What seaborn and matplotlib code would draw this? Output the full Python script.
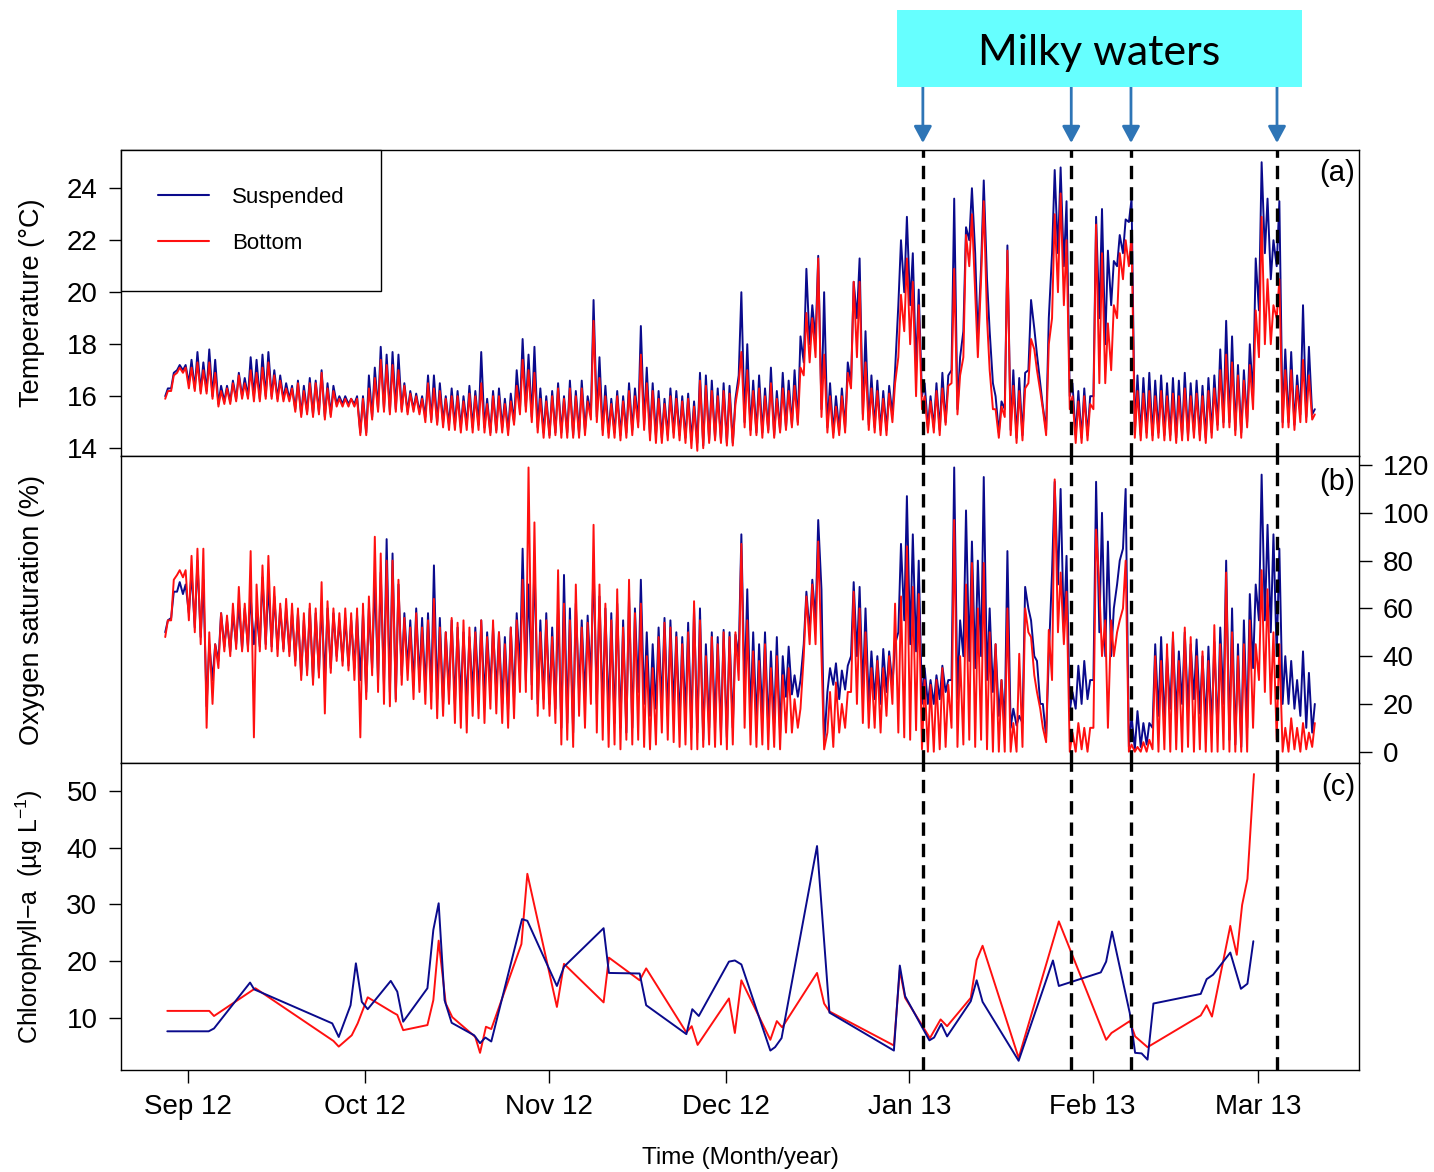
import numpy as np
import pandas as pd
import matplotlib
matplotlib.use("Agg")
import matplotlib.pyplot as plt
from matplotlib.lines import Line2D
from matplotlib.patches import Rectangle
import seaborn as sns

sns.set_theme(style="ticks", rc={"text.color": "black", "axes.labelcolor": "black",
                                 "xtick.color": "black", "ytick.color": "black",
                                 "axes.edgecolor": "black"})
plt.rcParams["font.family"] = ["Liberation Sans", "DejaVu Sans"]
plt.rcParams["mathtext.fontset"] = "custom"
plt.rcParams["mathtext.rm"] = "Liberation Sans"
plt.rcParams["mathtext.it"] = "Liberation Sans:italic"

START = pd.Timestamp("2012-08-28")  # day 0

# ---------------- (a) Temperature, two readings per day (morning / afternoon) -------------
temp_susp_am = [
    16.0, 16.3, 17.0, 17.0, 16.5, 16.3, 16.2, 16.2, 16.0, 15.7,
    15.8, 15.8, 15.9, 16.0, 16.0, 16.0, 15.9, 16.0, 16.0, 15.9,
    15.9, 15.9, 15.5, 15.3, 15.4, 15.3, 15.4, 15.2, 15.3, 15.7,
    15.7, 15.7, 15.7, 14.6, 14.6, 15.2, 15.5, 15.5, 15.4, 15.5,
    15.5, 15.4, 15.5, 15.4, 15.2, 15.1, 15.0, 15.0, 14.9, 14.9,
    14.8, 14.9, 14.8, 14.9, 14.8, 14.6, 14.7, 14.8, 14.7, 15.0,
    15.5, 15.6, 15.2, 14.8, 14.6, 14.5, 14.6, 14.6, 14.6, 14.5,
    14.6, 14.7, 15.3, 15.2, 14.7, 14.6, 14.6, 14.5, 14.6, 14.7,
    15.0, 14.9, 14.5, 14.5, 14.4, 14.5, 14.6, 14.5, 14.4, 14.3,
    14.2, 14.1, 14.3, 14.4, 14.3, 14.2, 14.2, 16.8, 15.0, 14.7,
    14.6, 14.6, 14.7, 14.5, 14.7, 14.8, 14.9, 15.0, 17.3, 18.0,
    18.2, 15.5, 14.8, 14.6, 14.7, 14.8, 16.5, 19.0, 15.3, 14.9,
    14.8, 14.7, 14.7, 15.3, 19.5, 20.0, 19.5, 17.0, 16.0, 14.8,
    14.8, 14.7, 15.0, 17.0, 15.5, 18.5, 22.0, 21.5, 21.0, 20.5,
    16.5, 14.6, 15.5, 14.7, 14.4, 14.5, 17.0, 18.6, 16.5, 14.7,
    21.5, 21.5, 21.0, 16.0, 14.5, 14.4, 14.5, 16.0, 19.0, 18.0,
    19.5, 21.0, 21.5, 22.7, 14.6, 14.5, 14.6, 14.5, 14.6, 14.5,
    14.5, 14.4, 14.5, 14.5, 14.6, 14.5, 14.4, 14.6, 14.9, 15.0,
    15.0, 14.7, 14.6, 15.0, 16.0, 19.3, 21.5, 20.5, 21.0, 15.0,
    15.0, 14.9, 15.3, 15.2, 15.3,
]
temp_susp_pm = [
    16.3, 16.9, 17.2, 17.2, 17.4, 17.7, 17.3, 17.8, 17.4, 16.4,
    16.4, 16.6, 16.9, 16.7, 17.5, 17.4, 17.6, 17.7, 17.0, 16.8,
    16.5, 16.4, 16.6, 16.4, 16.7, 16.6, 17.0, 16.5, 16.4, 16.0,
    16.0, 15.9, 16.0, 16.0, 16.8, 17.1, 17.9, 17.6, 17.7, 17.6,
    16.5, 16.2, 16.1, 16.0, 16.8, 16.8, 16.5, 16.0, 16.3, 16.2,
    16.0, 16.4, 16.2, 17.7, 15.9, 16.2, 16.3, 15.9, 16.1, 17.0,
    18.2, 17.6, 17.9, 16.3, 16.0, 16.2, 16.5, 16.0, 16.6, 16.2,
    16.6, 16.0, 19.7, 17.5, 16.4, 15.9, 16.2, 16.0, 16.5, 16.3,
    18.7, 17.1, 16.5, 16.2, 15.9, 16.3, 16.2, 16.0, 16.1, 15.8,
    16.9, 16.8, 16.6, 16.3, 16.5, 16.4, 15.9, 20.0, 18.0, 16.6,
    16.8, 16.3, 17.1, 16.2, 16.9, 16.6, 17.0, 18.3, 20.9, 19.5,
    21.4, 20.0, 16.5, 16.0, 16.3, 17.3, 20.4, 21.3, 18.5, 16.8,
    16.6, 16.2, 16.4, 17.0, 22.0, 22.9, 21.5, 20.1, 16.5, 16.0,
    16.5, 16.9, 16.8, 23.6, 17.5, 22.5, 24.0, 18.2, 24.3, 18.5,
    16.0, 15.8, 21.8, 17.0, 16.7, 16.9, 19.7, 17.6, 15.6, 19.0,
    24.7, 24.8, 23.5, 16.5, 16.2, 16.3, 16.0, 22.9, 23.2, 21.6,
    21.2, 22.2, 22.8, 23.6, 16.8, 16.7, 16.9, 16.6, 16.8, 16.5,
    16.7, 16.6, 16.9, 16.5, 16.6, 16.4, 16.7, 16.8, 17.8, 18.9,
    18.3, 17.2, 17.0, 18.0, 21.3, 25.0, 23.6, 22.0, 23.5, 17.8,
    17.7, 16.8, 19.5, 17.9, 15.5,
]
temp_bot_am = [
    15.9, 16.2, 16.9, 16.9, 16.3, 16.2, 16.1, 16.1, 15.9, 15.6,
    15.7, 15.7, 15.8, 15.9, 15.9, 15.8, 15.8, 15.9, 15.9, 15.8,
    15.8, 15.8, 15.4, 15.2, 15.3, 15.2, 15.3, 15.1, 15.2, 15.6,
    15.6, 15.6, 15.6, 14.5, 14.5, 15.1, 15.4, 15.4, 15.3, 15.4,
    15.4, 15.3, 15.4, 15.3, 15.0, 15.0, 14.9, 14.8, 14.7, 14.7,
    14.6, 14.7, 14.6, 14.7, 14.6, 14.5, 14.6, 14.6, 14.5, 14.9,
    15.3, 15.4, 15.0, 14.6, 14.4, 14.4, 14.5, 14.4, 14.4, 14.4,
    14.4, 14.5, 15.1, 15.0, 14.5, 14.4, 14.4, 14.3, 14.4, 14.5,
    14.8, 14.7, 14.3, 14.2, 14.2, 14.3, 14.4, 14.3, 14.2, 14.0,
    13.9, 14.0, 14.2, 14.3, 14.2, 14.1, 14.1, 16.5, 14.8, 14.5,
    14.5, 14.4, 14.6, 14.4, 14.6, 14.7, 14.8, 14.9, 16.8, 17.3,
    17.5, 15.2, 14.6, 14.4, 14.5, 14.6, 16.3, 17.5, 15.1, 14.7,
    14.6, 14.5, 14.5, 15.0, 17.5, 18.5, 18.0, 16.0, 15.5, 14.6,
    14.6, 14.5, 14.9, 16.5, 15.3, 17.5, 21.0, 20.0, 20.5, 19.0,
    15.5, 14.4, 15.2, 14.5, 14.2, 14.3, 16.5, 17.8, 16.2, 14.5,
    19.0, 20.0, 19.5, 15.5, 14.2, 14.2, 14.3, 15.5, 16.5, 16.5,
    17.0, 19.0, 20.5, 21.0, 14.4, 14.3, 14.4, 14.3, 14.4, 14.3,
    14.3, 14.2, 14.3, 14.3, 14.4, 14.3, 14.2, 14.4, 14.7, 14.8,
    14.8, 14.5, 14.4, 14.8, 15.5, 17.5, 18.0, 18.0, 19.0, 14.8,
    14.8, 14.7, 15.0, 15.0, 15.1,
]
temp_bot_pm = [
    16.2, 16.8, 17.1, 17.1, 17.1, 17.3, 17.0, 17.3, 16.9, 16.2,
    16.3, 16.5, 16.8, 16.5, 17.0, 16.9, 17.1, 17.3, 16.8, 16.6,
    16.3, 16.3, 16.5, 16.2, 16.5, 16.5, 16.9, 16.3, 16.2, 15.9,
    15.9, 15.9, 15.9, 15.9, 16.3, 16.7, 17.4, 17.2, 17.2, 17.0,
    16.4, 16.1, 16.0, 15.9, 16.5, 16.3, 16.2, 15.9, 16.0, 16.0,
    15.8, 16.1, 16.0, 16.5, 15.7, 16.0, 16.0, 15.7, 15.8, 16.4,
    17.4, 17.0, 16.9, 15.9, 15.8, 16.0, 16.3, 15.9, 16.3, 16.0,
    16.3, 15.8, 18.9, 16.7, 16.0, 15.7, 16.0, 15.8, 16.2, 16.0,
    17.6, 16.5, 16.2, 15.9, 15.7, 16.0, 15.9, 15.8, 15.9, 15.6,
    16.6, 16.4, 16.2, 16.0, 16.2, 16.1, 15.7, 17.7, 17.0, 16.2,
    16.3, 16.0, 16.5, 15.9, 16.3, 16.2, 16.4, 17.1, 19.2, 19.0,
    21.3, 17.6, 16.0, 15.6, 16.0, 16.9, 20.4, 20.4, 17.3, 16.3,
    16.2, 15.9, 16.1, 16.5, 19.9, 21.3, 20.4, 19.5, 16.0, 15.8,
    16.2, 16.3, 16.4, 20.9, 16.8, 22.2, 23.0, 17.5, 23.5, 17.0,
    15.5, 15.6, 21.6, 16.4, 16.2, 16.3, 18.2, 17.0, 15.5, 18.0,
    23.0, 23.8, 22.0, 16.0, 15.8, 16.0, 15.7, 22.6, 21.5, 18.8,
    19.5, 21.5, 22.0, 22.2, 16.2, 16.1, 16.2, 16.0, 16.2, 16.0,
    16.1, 16.0, 16.3, 16.0, 16.1, 16.0, 16.2, 16.3, 17.0, 17.6,
    17.3, 16.8, 16.6, 17.2, 19.3, 22.9, 20.5, 19.5, 20.5, 17.0,
    17.0, 16.4, 17.4, 16.8, 15.3,
]

# ---------------- (b) Oxygen saturation (%), two readings per day ----------------
oxy_susp_am = [
    50, 56, 67, 66, 58, 52, 48, 19, 30, 38,
    44, 42, 45, 43, 44, 45, 44, 45, 44, 43,
    43, 42, 38, 32, 34, 30, 33, 30, 35, 40,
    38, 36, 35, 30, 25, 35, 30, 28, 25, 22,
    32, 35, 28, 30, 26, 25, 22, 20, 25, 20,
    22, 20, 25, 24, 22, 26, 25, 20, 18, 22,
    35, 30, 28, 20, 22, 20, 18, 10, 12, 8,
    25, 22, 30, 20, 18, 15, 12, 10, 8, 10,
    25, 20, 15, 18, 20, 15, 18, 12, 15, 10,
    8, 5, 10, 12, 8, 6, 10, 40, 25, 15,
    12, 15, 10, 12, 8, 23, 24, 23, 45, 50,
    55, 68, 25, 28, 22, 26, 40, 40, 25, 20,
    22, 20, 25, 28, 50, 55, 45, 42, 20, 20,
    20, 22, 25, 30, 22, 40, 38, 35, 40, 30,
    25, 15, 12, 10, 11, 12, 60, 40, 20, 6,
    75, 70, 50, 17, 18, 20, 22, 30, 50, 40,
    40, 70, 85, 2, 1, 2, 3, 10, 15, 12,
    18, 15, 20, 18, 22, 16, 12, 10, 8, 20,
    5, 3, 2, 10, 35, 55, 55, 50, 40, 20,
    20, 18, 15, 10, 8,
]
oxy_susp_pm = [
    55, 67, 71, 70, 75, 80, 72, 45, 45, 58,
    55, 58, 62, 60, 65, 58, 73, 70, 65, 60,
    60, 58, 58, 55, 60, 58, 62, 60, 58, 55,
    56, 55, 57, 58, 60, 72, 75, 89, 83, 70,
    58, 55, 60, 56, 58, 78, 56, 50, 55, 52,
    50, 48, 52, 55, 50, 52, 50, 48, 52, 58,
    85, 70, 80, 55, 58, 52, 60, 74, 60, 62,
    55, 57, 79, 65, 60, 58, 62, 55, 65, 60,
    72, 50, 45, 52, 56, 55, 50, 48, 54, 60,
    60, 45, 50, 48, 51, 50, 49, 91, 68, 50,
    45, 50, 42, 48, 40, 44, 32, 30, 67, 72,
    97, 3, 35, 37, 34, 36, 71, 69, 60, 42,
    40, 43, 42, 45, 87, 107, 91, 80, 35, 30,
    32, 36, 30, 119, 55, 101, 88, 80, 115, 60,
    45, 30, 84, 18, 15, 69, 55, 38, 20, 40,
    113, 110, 82, 25, 36, 38, 30, 113, 100, 88,
    60, 80, 110, 15, 17, 12, 12, 45, 48, 40,
    48, 42, 50, 45, 47, 40, 44, 46, 52, 80,
    60, 45, 55, 66, 70, 116, 95, 91, 85, 40,
    38, 30, 42, 33, 20,
]
oxy_bot_am = [
    48, 55, 74, 73, 55, 50, 45, 10, 20, 35,
    42, 40, 43, 42, 42, 6, 42, 43, 42, 40,
    42, 40, 36, 30, 32, 28, 31, 16, 33, 38,
    36, 34, 30, 6, 22, 32, 25, 20, 19, 21,
    28, 30, 22, 25, 20, 18, 14, 15, 20, 12,
    10, 8, 15, 14, 12, 18, 16, 12, 10, 14,
    25, 25, 22, 15, 18, 15, 12, 3, 5, 2,
    15, 10, 20, 8, 5, 2, 3, 1, 5, 3,
    5, 2, 1, 3, 8, 5, 4, 2, 3, 1,
    1, 2, 3, 2, 3, 1, 3, 30, 10, 3,
    2, 3, 1, 2, 1, 8, 8, 10, 40, 45,
    45, 40, 8, 2, 8, 10, 25, 20, 12, 10,
    10, 8, 15, 20, 8, 6, 5, 9, 1, 0,
    0, 1, 2, 10, 2, 3, 5, 2, 5, 1,
    0, 0, 0, 0, 0, 2, 50, 32, 18, 4,
    30, 50, 45, 0, 0, 1, 0, 10, 69, 55,
    55, 50, 60, 0, 0, 0, 0, 1, 0, 1,
    0, 1, 0, 2, 0, 1, 0, 0, 0, 1,
    0, 0, 0, 0, 10, 30, 25, 20, 5, 0,
    0, 1, 0, 1, 2,
]
oxy_bot_pm = [
    55, 72, 76, 76, 82, 85, 85, 50, 45, 58,
    57, 62, 69, 62, 84, 70, 78, 82, 69, 62,
    64, 62, 60, 58, 62, 60, 71, 63, 60, 58,
    60, 58, 60, 62, 65, 90, 83, 80, 80, 72,
    56, 52, 58, 52, 55, 64, 52, 50, 56, 54,
    55, 52, 50, 55, 48, 55, 50, 45, 52, 55,
    72, 119, 96, 50, 55, 48, 76, 62, 55, 70,
    52, 54, 95, 70, 62, 55, 68, 52, 72, 58,
    62, 40, 35, 48, 54, 52, 48, 45, 50, 63,
    55, 40, 48, 45, 50, 48, 50, 87, 55, 42,
    38, 45, 35, 40, 32, 35, 22, 18, 65, 70,
    88, 1, 25, 29, 20, 25, 67, 60, 50, 35,
    38, 35, 40, 62, 65, 86, 69, 66, 30, 28,
    30, 35, 28, 97, 40, 70, 79, 60, 79, 50,
    45, 30, 60, 12, 41, 60, 48, 25, 10, 51,
    114, 75, 67, 8, 12, 10, 10, 93, 40, 10,
    40, 55, 80, 3, 2, 4, 5, 40, 38, 45,
    50, 38, 52, 48, 40, 42, 38, 53, 45, 75,
    50, 40, 45, 55, 45, 76, 68, 50, 45, 10,
    14, 10, 12, 8, 12,
]

# ---------------- (c) Chlorophyll-a sampling (day offset, µg/L) ----------------
chl_bot_day = [0.5, 7.6, 8.4, 15.4, 28.6, 29.5, 31.7, 32.7, 34.4, 38.7, 39.4, 40.4,
               44.5, 45.5, 46.4, 47.6, 48.7, 52.6, 53.4, 54.4, 55.3, 60.4, 61.4, 66.4,
               67.6, 74.3, 75.2, 80.4, 81.5, 88.3, 89.2, 90.2, 95.5, 96.5, 97.6, 102.5,
               103.6, 104.5, 110.4, 111.6, 112.5, 123.4, 124.4, 125.3, 129.5, 131.3,
               132.4, 136.4, 137.4, 138.4, 144.5, 151.3, 159.3, 160.2, 163.3, 164.2,
               166.3, 175.3, 176.3, 177.2, 180.3, 181.4, 182.3, 183.2, 184.3]
chl_bot_val = [11.2, 11.2, 10.3, 15.2, 5.9, 4.9, 6.9, 9.0, 13.6, 10.9, 10.5, 7.8,
               8.7, 13.1, 23.6, 12.5, 10.1, 6.6, 3.8, 8.4, 8.0, 23.0, 35.4, 11.9,
               19.5, 12.7, 20.6, 16.6, 18.7, 7.4, 8.5, 5.2, 13.4, 7.3, 16.6, 6.1,
               9.4, 8.3, 17.9, 12.5, 11.1, 5.1, 18.4, 13.5, 6.4, 9.7,
               8.5, 13.5, 20.2, 22.7, 2.9, 27.0, 6.1, 7.3, 9.4, 6.7,
               4.8, 10.4, 12.2, 10.2, 26.2, 21.1, 29.9, 34.5, 53.0]
chl_susp_day = [0.5, 7.5, 8.4, 14.5, 15.2, 28.4, 29.5, 31.5, 32.4, 33.4, 34.4, 38.3,
                39.4, 40.4, 44.5, 45.5, 46.4, 47.4, 48.6, 52.4, 53.4, 54.3, 55.3, 60.5,
                61.4, 66.4, 67.6, 74.3, 75.2, 80.4, 81.5, 88.3, 89.3, 90.4, 95.5, 96.5,
                97.6, 102.5, 103.3, 104.4, 110.4, 112.5, 123.4, 124.4, 125.3, 129.4,
                130.2, 131.4, 132.4, 136.4, 137.4, 138.4, 144.5, 150.3, 151.3, 158.4,
                159.3, 160.3, 163.3, 164.2, 165.3, 166.3, 167.3, 175.3, 176.3, 177.4,
                180.3, 182.1, 183.2, 184.2]
chl_susp_val = [7.6, 7.6, 8.1, 16.2, 15.0, 9.0, 6.6, 12.2, 19.6, 12.8, 11.5, 16.5,
                14.6, 9.3, 15.2, 25.5, 30.2, 13.1, 9.1, 6.9, 5.5, 6.5, 5.8, 27.4,
                27.1, 15.6, 19.0, 25.8, 17.9, 17.8, 12.2, 7.1, 11.5, 10.3, 19.9, 20.1,
                19.4, 4.2, 4.8, 6.4, 40.3, 10.9, 4.2, 19.2, 13.8, 6.0,
                6.5, 8.9, 6.7, 12.9, 16.6, 12.8, 2.4, 20.1, 15.6, 18.0,
                19.9, 25.2, 10.8, 3.8, 3.7, 2.6, 12.5, 14.2, 16.8, 17.6,
                21.5, 15.1, 16.0, 23.5]

# Milky-water events (day offsets) and axis labels
milky_days = [128.3, 153.4, 163.5, 188.2]
month_ticks = ["2012-09-01", "2012-10-01", "2012-11-01", "2012-12-01",
               "2013-01-01", "2013-02-01", "2013-03-01"]
month_labels = ["Sep 12", "Oct 12", "Nov 12", "Dec 12", "Jan 13", "Feb 13", "Mar 13"]

BLUE = "#0A0A8C"
RED = "#FF1010"


def to_dates(days):
    return START + pd.to_timedelta(np.asarray(days, dtype=float), unit="D")


def twice_daily(am, pm):
    n = min(len(am), len(pm))
    days, vals = [], []
    for d in range(n):
        days += [d + 0.15, d + 0.6]
        vals += [am[d], pm[d]]
    return to_dates(days), np.asarray(vals, dtype=float)


fig = plt.figure(figsize=(14.34, 11.72), dpi=100)
fig.patch.set_facecolor("white")
L, W = 121 / 1434, 1238 / 1434
ax_a = fig.add_axes([L, 1 - 456 / 1172, W, 306 / 1172])
ax_b = fig.add_axes([L, 1 - 763.3 / 1172, W, 307.3 / 1172], sharex=ax_a)
ax_c = fig.add_axes([L, 1 - 1070 / 1172, W, 306.7 / 1172], sharex=ax_a)

LW = 1.4
# (a)
t, v = twice_daily(temp_susp_am, temp_susp_pm)
sns.lineplot(x=t, y=v, ax=ax_a, color=BLUE, linewidth=LW, estimator=None)
t, v = twice_daily(temp_bot_am, temp_bot_pm)
sns.lineplot(x=t, y=v, ax=ax_a, color=RED, linewidth=LW, estimator=None)
# (b)
t, v = twice_daily(oxy_susp_am, oxy_susp_pm)
sns.lineplot(x=t, y=v, ax=ax_b, color=BLUE, linewidth=LW, estimator=None)
t, v = twice_daily(oxy_bot_am, oxy_bot_pm)
sns.lineplot(x=t, y=v, ax=ax_b, color=RED, linewidth=LW, estimator=None)
# (c)
sns.lineplot(x=to_dates(chl_bot_day), y=chl_bot_val, ax=ax_c, color=RED,
             linewidth=LW, estimator=None)
sns.lineplot(x=to_dates(chl_susp_day), y=chl_susp_val, ax=ax_c, color=BLUE,
             linewidth=LW, estimator=None)

ax_a.set_xlim(START + pd.Timedelta(days=-7.33), START + pd.Timedelta(days=202.07))
ax_a.set_ylim(13.70, 25.47)
ax_b.set_ylim(-4.85, 123.8)
ax_c.set_ylim(0.77, 54.9)

ax_a.set_yticks([14, 16, 18, 20, 22, 24])
ax_b.yaxis.tick_right()
ax_b.set_yticks([0, 20, 40, 60, 80, 100, 120])
ax_c.set_yticks([10, 20, 30, 40, 50])
ax_c.set_xticks(pd.to_datetime(month_ticks))
ax_c.set_xticklabels(month_labels)

for ax in (ax_a, ax_b, ax_c):
    ax.tick_params(axis="both", direction="out", length=9, width=1.0,
                   labelsize=20, pad=8, color="black", labelcolor="black")
    for s in ax.spines.values():
        s.set_linewidth(1.0)
        s.set_color("black")
    ax.set_xlabel("")
    ax.grid(False)
ax_a.tick_params(axis="x", bottom=False, labelbottom=False)
ax_b.tick_params(axis="x", bottom=False, labelbottom=False)
ax_b.tick_params(axis="y", left=False, labelleft=False, right=True, labelright=True)

# y labels
ax_a.set_ylabel("Temperature (°C)", fontsize=19.5, color="black")
ax_b.set_ylabel("Oxygen saturation (%)", fontsize=19.5, color="black")
ax_b.yaxis.set_label_position("left")
ax_c.set_ylabel("Chlorophyll\u2212a  (µg L$^{-1}$)", fontsize=18, color="black")
for ax in (ax_a, ax_b, ax_c):
    ax.yaxis.set_label_coords(-0.061, 0.5)

# panel tags
ax_a.text(0.997, 0.925, "(a)", transform=ax_a.transAxes, ha="right", va="center",
          fontsize=21, color="black")
ax_b.text(0.997, 0.915, "(b)", transform=ax_b.transAxes, ha="right", va="center",
          fontsize=21, color="black")
ax_c.text(0.997, 0.923, "(c)", transform=ax_c.transAxes, ha="right", va="center",
          fontsize=21, color="black")

# milky-water markers
for d in milky_days:
    dt = START + pd.Timedelta(days=d)
    for ax in (ax_a, ax_b, ax_c):
        ax.axvline(dt, color="black", lw=2.4, linestyle=(0, (4, 2.4)), zorder=5)
    ax_a.annotate("", xy=(dt, 1.0229), xytext=(dt, 1.2059),
                  xycoords=("data", "axes fraction"), textcoords=("data", "axes fraction"),
                  arrowprops=dict(arrowstyle="-|>,head_length=0.5,head_width=0.27",
                                  color="#2E75B6", lw=2, shrinkA=0, shrinkB=0,
                                  mutation_scale=20),
                  annotation_clip=False)

fig.patches.append(Rectangle((897 / 1434, 1 - 87 / 1172), 405 / 1434, 77 / 1172,
                             transform=fig.transFigure, facecolor="#66FFFF",
                             edgecolor="none", zorder=0))
fig.text(1099 / 1434, 1 - 65 / 1172, "Milky waters", ha="center", va="baseline",
         fontsize=31, color="black", family=["Lato", "DejaVu Sans"])

# legend
handles = [Line2D([], [], color=BLUE, lw=1.5, label="Suspended"),
           Line2D([], [], color=RED, lw=1.5, label="Bottom")]
leg = ax_a.legend(handles=handles, loc="upper left", bbox_to_anchor=(0, 1),
                  borderaxespad=0, frameon=True, fancybox=False, edgecolor="black",
                  fontsize=16, handlelength=2.3, handletextpad=1.05, borderpad=1.65,
                  labelspacing=1.15, framealpha=1)
leg.get_frame().set_linewidth(1.0)
for txt in leg.get_texts():
    txt.set_color("black")

fig.text(740 / 1434, 1 - 1158 / 1172, "Time (Month/year)", ha="center", va="center",
         fontsize=17.5, color="black")

fig.savefig("out.png", dpi=100, facecolor="white")
